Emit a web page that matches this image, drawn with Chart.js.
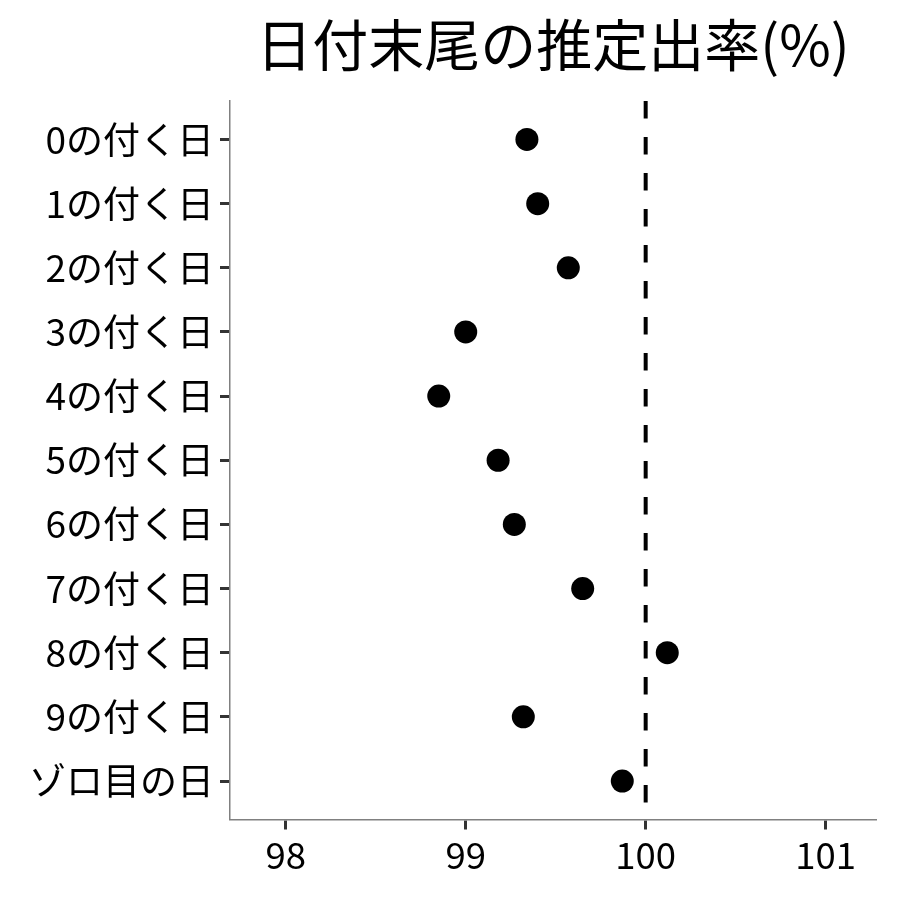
<!DOCTYPE html>
<html>
<head>
<meta charset="utf-8">
<script src="https://cdn.jsdelivr.net/npm/chart.js@4/dist/chart.umd.min.js"></script>
<style>
html,body{margin:0;padding:0;background:#fff;}
#wrap{width:900px;height:900px;}
</style>
</head>
<body>
<div id="wrap"><canvas id="c" width="900" height="900"></canvas></div>
<script>
const titleText = '日付末尾の推定出率(%)';
const categories = ['0の付く日','1の付く日','2の付く日','3の付く日','4の付く日','5の付く日','6の付く日','7の付く日','8の付く日','9の付く日','ゾロ目の日'];
const rates = [99.34, 99.40, 99.57, 99.00, 98.85, 99.18, 99.27, 99.65, 100.12, 99.32, 99.87];
const xTicks = [98, 99, 100, 101];
const referenceValue = 100;

const FONT = '"Noto Sans CJK JP", "Noto Sans", sans-serif';

const titlePlugin = {
  id: 'customTitle',
  afterDraw(chart) {
    const ctx = chart.ctx;
    const a = chart.chartArea;
    ctx.save();
    ctx.font = '56px ' + FONT;
    ctx.fillStyle = '#000';
    ctx.textAlign = 'center';
    ctx.textBaseline = 'middle';
    ctx.fillText(titleText, (a.left + a.right) / 2, 45);
    ctx.restore();
  }
};

new Chart(document.getElementById('c'), {
  type: 'scatter',
  data: {
    datasets: [
      {
        type: 'line',
        data: [{x: referenceValue, y: -0.6}, {x: referenceValue, y: categories.length - 0.4}],
        borderColor: '#000',
        borderWidth: 4,
        borderDash: [17.5, 18.5],
        pointRadius: 0,
        fill: false
      },
      {
        data: rates.map((v, i) => ({x: v, y: i})),
        backgroundColor: '#000',
        borderColor: '#000',
        pointRadius: 11.5,
        pointHoverRadius: 11.5,
        borderWidth: 0
      }
    ]
  },
  options: {
    responsive: false,
    animation: false,
    events: [],
    layout: {padding: {top: 101, right: 24, left: 0, bottom: 0}},
    plugins: {legend: {display: false}, tooltip: {enabled: false}, title: {display: false}},
    scales: {
      x: {
        type: 'linear',
        min: 97.69,
        max: 101.28,
        afterBuildTicks(scale) { scale.ticks = xTicks.map(v => ({value: v})); },
        afterFit(scale) { scale.height = 80.5; },
        ticks: {
          font: {family: FONT, size: 36.5},
          color: '#000',
          padding: 4,
          maxRotation: 0,
          callback: v => String(v)
        },
        grid: {drawOnChartArea: false, drawTicks: true, tickLength: 10, tickColor: '#333', tickWidth: 3},
        border: {display: true, color: '#808080', width: 1.5}
      },
      y: {
        type: 'linear',
        reverse: true,
        min: -0.6,
        max: categories.length - 0.4,
        afterBuildTicks(scale) { scale.ticks = categories.map((c, i) => ({value: i})); },
        afterFit(scale) { scale.width = 230; },
        ticks: {
          font: {family: FONT, size: 37},
          color: '#000',
          padding: 6,
          callback: v => categories[v]
        },
        grid: {drawOnChartArea: false, drawTicks: true, tickLength: 10, tickColor: '#333', tickWidth: 3},
        border: {display: true, color: '#808080', width: 1.5}
      }
    }
  },
  plugins: [titlePlugin]
});
</script>
</body>
</html>
